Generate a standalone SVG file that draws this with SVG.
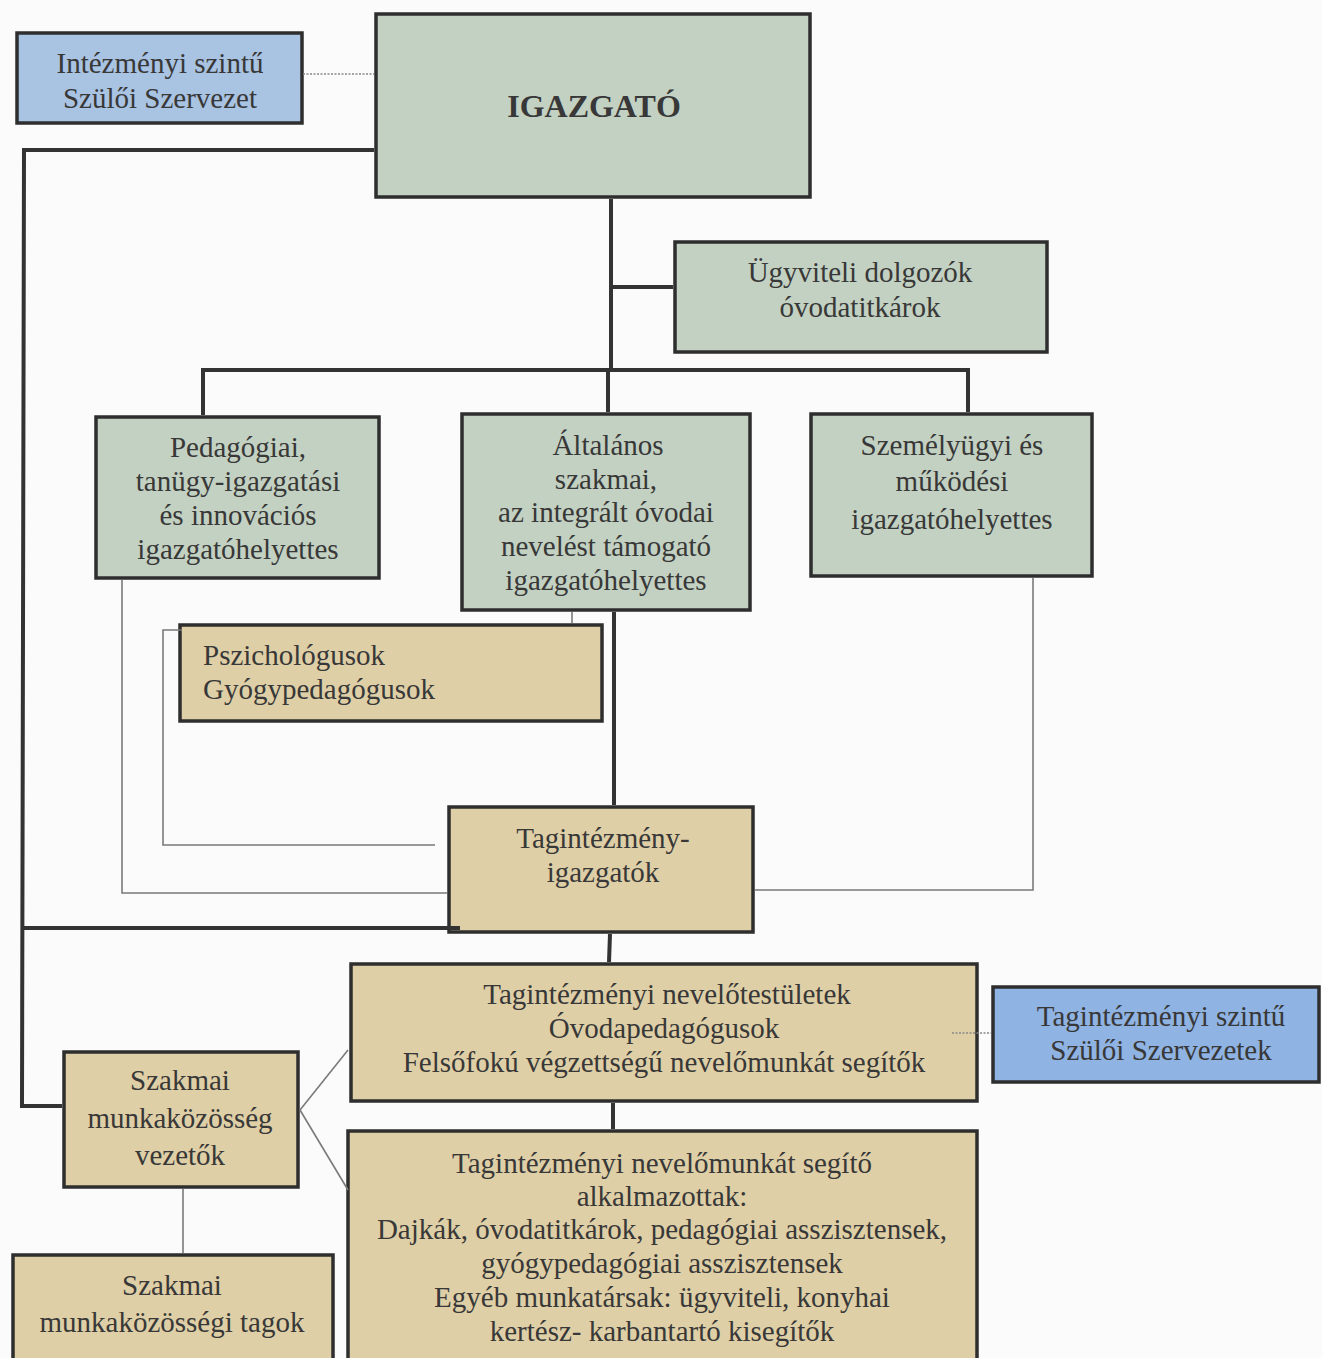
<svg xmlns="http://www.w3.org/2000/svg" width="1322" height="1358" viewBox="0 0 1322 1358">
<style>
.box{stroke:#2e2e2e;stroke-width:3.5}
.green{fill:#c3d1c2}
.tan{fill:#dfcfa6}
.blue1{fill:#a9c3e2}
.blue2{fill:#8fb3e2}
text{font-family:"Liberation Serif","Times New Roman",serif;font-size:29px;fill:#383838;text-anchor:middle}
.left{text-anchor:start}
.bold{font-weight:bold;font-size:32px}
.thick{stroke:#333;stroke-width:4;fill:none}
.thin{stroke:#7a7a7a;stroke-width:1.6;fill:none}
.dot{stroke:#888;stroke-width:1.5;stroke-dasharray:2 1.5;fill:none}
</style>
<rect width="1322" height="1358" fill="#fbfbfb"/>
<g id="szuloi-intezmenyi">
<rect class="box blue1" x="17" y="33" width="285" height="90"/>
<text x="160" y="73">Intézményi szintű</text>
<text x="160" y="108">Szülői Szervezet</text>
</g>
<g id="igazgato">
<rect class="box green" x="376" y="14" width="434" height="183"/>
<text class="bold" x="594" y="117">IGAZGATÓ</text>
</g>
<g id="ugyviteli">
<rect class="box green" x="675" y="242" width="372" height="110"/>
<text x="860" y="282">Ügyviteli dolgozók</text>
<text x="860" y="317">óvodatitkárok</text>
</g>
<g id="pedagogiai">
<rect class="box green" x="96" y="417" width="283" height="161"/>
<text x="238" y="457">Pedagógiai,</text>
<text x="238" y="491">tanügy-igazgatási</text>
<text x="238" y="525">és innovációs</text>
<text x="238" y="559">igazgatóhelyettes</text>
</g>
<g id="altalanos">
<rect class="box green" x="462" y="414" width="288" height="196"/>
<text x="608" y="455">Általános</text>
<text x="606" y="489">szakmai,</text>
<text x="606" y="522">az integrált óvodai</text>
<text x="606" y="556">nevelést támogató</text>
<text x="606" y="590">igazgatóhelyettes</text>
</g>
<g id="szemelyugyi">
<rect class="box green" x="811" y="414" width="281" height="162"/>
<text x="952" y="455">Személyügyi és</text>
<text x="952" y="491">működési</text>
<text x="952" y="529">igazgatóhelyettes</text>
</g>
<g id="pszichologusok">
<rect class="box tan" x="180" y="625" width="422" height="96"/>
<text class="left" x="203" y="665">Pszichológusok</text>
<text class="left" x="203" y="699">Gyógypedagógusok</text>
</g>
<g id="tagintezmeny-igazgatok">
<rect class="box tan" x="449" y="807" width="304" height="125"/>
<text x="603" y="848">Tagintézmény-</text>
<text x="603" y="882">igazgatók</text>
</g>
<g id="nevelotestuletek">
<rect class="box tan" x="351" y="964" width="626" height="137"/>
<text x="667" y="1004">Tagintézményi nevelőtestületek</text>
<text x="664" y="1038">Óvodapedagógusok</text>
<text x="664" y="1072">Felsőfokú végzettségű nevelőmunkát segítők</text>
</g>
<g id="szuloi-tagintezmenyi">
<rect class="box blue2" x="993" y="987" width="326" height="95"/>
<text x="1161" y="1026">Tagintézményi szintű</text>
<text x="1161" y="1060">Szülői Szervezetek</text>
</g>
<g id="munkakozosseg-vezetok">
<rect class="box tan" x="64" y="1052" width="234" height="135"/>
<text x="180" y="1090">Szakmai</text>
<text x="180" y="1128">munkaközösség</text>
<text x="180" y="1165">vezetők</text>
</g>
<g id="munkakozossegi-tagok">
<rect class="box tan" x="13" y="1255" width="320" height="110"/>
<text x="172" y="1295">Szakmai</text>
<text x="172" y="1332">munkaközösségi tagok</text>
</g>
<g id="nevelomunkat-segito">
<rect class="box tan" x="348" y="1131" width="629" height="235"/>
<text x="662" y="1173">Tagintézményi nevelőmunkát segítő</text>
<text x="662" y="1206">alkalmazottak:</text>
<text x="662" y="1239">Dajkák, óvodatitkárok, pedagógiai asszisztensek,</text>
<text x="662" y="1273">gyógypedagógiai asszisztensek</text>
<text x="662" y="1307">Egyéb munkatársak: ügyviteli, konyhai</text>
<text x="662" y="1341">kertész- karbantartó kisegítők</text>
</g>
<g id="connectors">
<polyline class="dot" points="303,74 374,74"/>
<polyline class="dot" points="952,1033 991,1033"/>
<polyline class="thick" points="374,150 24,150 22,1106 62,1106"/>
<polyline class="thick" points="21,928 460,928"/>
<polyline class="thick" points="611,199 611,370"/>
<polyline class="thick" points="611,287 673,287"/>
<polyline class="thick" points="203,415 203,370 968,370 968,412"/>
<polyline class="thick" points="608,370 608,412"/>
<polyline class="thick" points="614,612 614,805"/>
<polyline class="thick" points="610,934 609,962"/>
<polyline class="thick" points="613,1103 613,1129"/>
<polyline class="thin" points="122,580 122,893 447,893"/>
<polyline class="thin" points="182,630 163,630 163,845 435,845"/>
<polyline class="thin" points="572,612 572,623"/>
<polyline class="thin" points="1033,578 1033,890 755,890"/>
<polyline class="thin" points="300,1110 348,1050"/>
<polyline class="thin" points="300,1110 348,1190"/>
<polyline class="thin" points="183,1189 183,1253"/>
</g>
</svg>
